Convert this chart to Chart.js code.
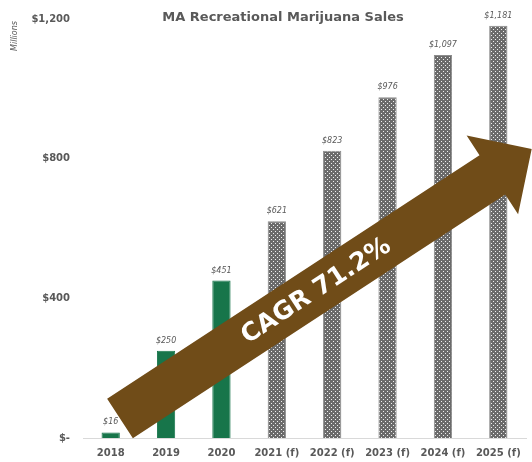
<!DOCTYPE html>
<html>
<head>
<meta charset="utf-8">
<script src="https://cdn.jsdelivr.net/npm/chart.js@4.4.1/dist/chart.umd.min.js"></script>
<style>
  html, body { margin: 0; padding: 0; background: #ffffff; }
  #wrap { width: 532px; height: 462px; position: relative; }
</style>
</head>
<body>
<div id="wrap"><canvas id="c" width="532" height="462"></canvas></div>
<script>
const categories = ['2018', '2019', '2020', '2021 (f)', '2022 (f)', '2023 (f)', '2024 (f)', '2025 (f)'];
const sales = [16, 250, 451, 621, 823, 976, 1097, 1181];
const forecast = [false, false, false, true, true, true, true, true];
const valueLabels = ['$16', '$250', '$451', '$621', '$823', '$976', '$1,097', '$1,181'];
const yTickValues = [0, 400, 800, 1200];
const yTickLabels = ['$-', '$400', '$800', '$1,200'];
const titleText = 'MA Recreational Marijuana Sales';
const unitText = 'Millions';
const arrowText = 'CAGR 71.2%';

const FONT = '"DejaVu Sans", Verdana, sans-serif';
const GREEN = '#17754A';
const BROWN = '#704C18';
const GREY_TXT = '#595959';

// dotted pattern for forecast bars
const tile = document.createElement('canvas');
tile.width = 4; tile.height = 4;
const tctx = tile.getContext('2d');
tctx.fillStyle = '#6b6b6b';
tctx.fillRect(0, 0, 4, 4);
tctx.fillStyle = '#f0f0f0';
tctx.fillRect(1, 1, 1, 1);
tctx.fillRect(3, 3, 1, 1);
const ctx = document.getElementById('c').getContext('2d');
const dotPattern = ctx.createPattern(tile, 'repeat');

const barColors = forecast.map(f => f ? dotPattern : GREEN);
const borderColors = forecast.map(f => f ? '#8c8c8c' : GREEN);

const decorPlugin = {
  id: 'decor',
  afterDatasetsDraw(chart) {
    const c = chart.ctx;
    const meta = chart.getDatasetMeta(0);
    // value labels
    c.save();
    c.font = 'italic 8px ' + FONT;
    c.fillStyle = GREY_TXT;
    c.textAlign = 'center';
    c.textBaseline = 'middle';
    meta.data.forEach((bar, i) => {
      c.fillText(valueLabels[i], bar.x, bar.y - 10);
    });
    c.restore();

    // title
    c.save();
    c.font = 'bold 13px ' + FONT;
    c.fillStyle = GREY_TXT;
    c.textAlign = 'center';
    c.textBaseline = 'middle';
    c.fillText(titleText, 283, 18);
    c.restore();

    // units label
    c.save();
    c.translate(15, 36);
    c.rotate(-Math.PI / 2);
    c.font = 'italic 8px ' + FONT;
    c.fillStyle = GREY_TXT;
    c.textAlign = 'center';
    c.textBaseline = 'middle';
    c.fillText(unitText, 0, 0);
    c.restore();

    // CAGR arrow
    const tx = 120, ty = 418.5;
    const ang = -33.2 * Math.PI / 180;
    const L = 492, sw = 23.5, hb = 445, hw = 47;
    c.save();
    c.translate(tx, ty);
    c.rotate(ang);
    c.beginPath();
    c.moveTo(0, -sw);
    c.lineTo(hb, -sw);
    c.lineTo(hb, -hw);
    c.lineTo(L, 0);
    c.lineTo(hb, hw);
    c.lineTo(hb, sw);
    c.lineTo(0, sw);
    c.closePath();
    c.fillStyle = BROWN;
    c.fill();
    c.font = 'bold 25px ' + FONT;
    c.fillStyle = '#ffffff';
    c.textAlign = 'center';
    c.textBaseline = 'middle';
    c.fillText(arrowText, 234, 1);
    c.restore();
  }
};

new Chart(ctx, {
  type: 'bar',
  data: {
    labels: categories,
    datasets: [{
      data: sales,
      backgroundColor: barColors,
      borderColor: borderColors,
      borderWidth: 1,
      barPercentage: 0.33,
      categoryPercentage: 1.0
    }]
  },
  options: {
    responsive: false,
    animation: false,
    devicePixelRatio: 1,
    layout: { padding: { top: 17, right: 6, left: 0, bottom: 0 } },
    plugins: {
      legend: { display: false },
      title: { display: false },
      tooltip: { enabled: false }
    },
    scales: {
      x: {
        grid: { display: false, drawTicks: false },
        border: { display: true, color: '#d9d9d9', width: 1 },
        ticks: {
          color: GREY_TXT,
          font: { family: FONT, size: 10, weight: 'bold' },
          padding: 9,
          maxRotation: 0,
          autoSkip: false
        },
        afterFit(scale) { scale.height = 24; }
      },
      y: {
        min: 0,
        max: 1200,
        grid: { display: false, drawTicks: false },
        border: { display: false },
        afterBuildTicks(scale) {
          scale.ticks = yTickValues.map(v => ({ value: v }));
        },
        ticks: {
          color: GREY_TXT,
          font: { family: FONT, size: 10, weight: 'bold' },
          padding: 13,
          callback(value) {
            const i = yTickValues.indexOf(value);
            return i >= 0 ? yTickLabels[i] : '';
          }
        },
        afterFit(scale) { scale.width = 83; }
      }
    }
  },
  plugins: [decorPlugin]
});
</script>
</body>
</html>
